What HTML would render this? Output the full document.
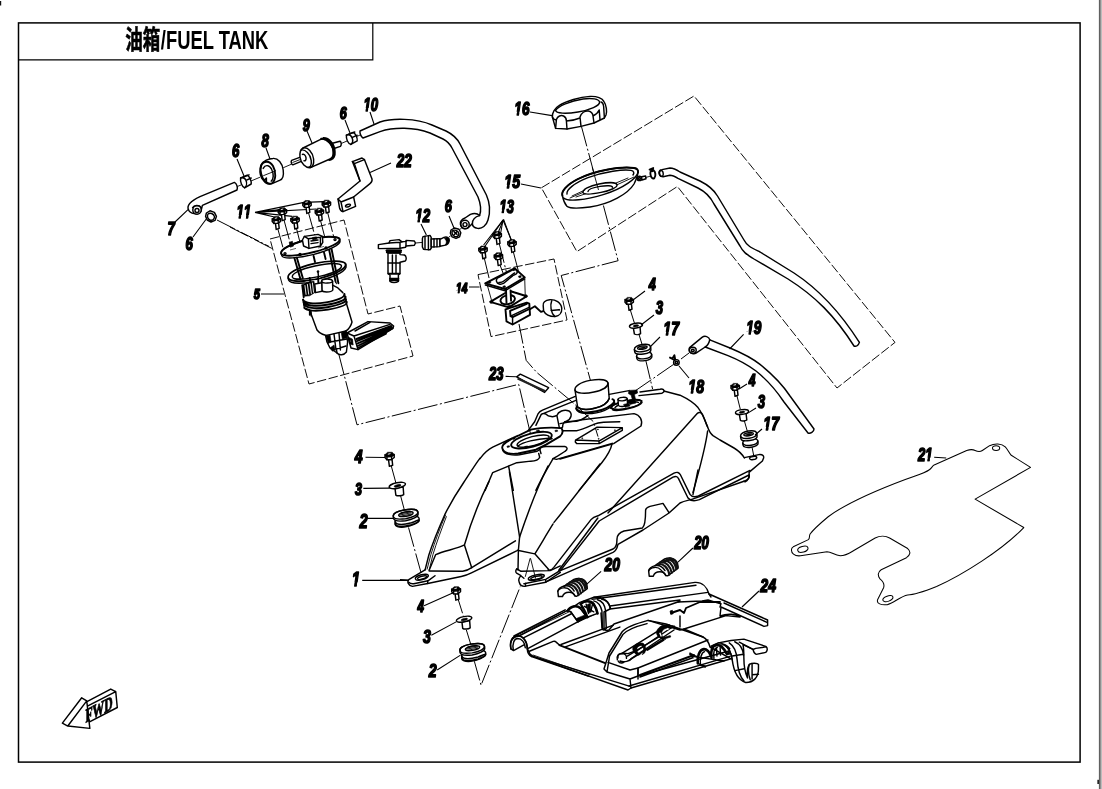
<!DOCTYPE html>
<html><head><meta charset="utf-8"><title>油箱/FUEL TANK</title>
<style>
html,body{margin:0;padding:0;background:#fff;}
body{width:1102px;height:789px;overflow:hidden;position:relative;font-family:"Liberation Sans","Noto Sans CJK SC",sans-serif;}
svg{position:absolute;left:0;top:0;display:block;will-change:transform}
.k{fill:none;stroke:#000;stroke-width:1.45;stroke-linecap:round;stroke-linejoin:round;vector-effect:non-scaling-stroke}
.kw{fill:#fff;stroke:#000;stroke-width:1.45;stroke-linecap:round;stroke-linejoin:round;vector-effect:non-scaling-stroke}
.t{fill:none;stroke:#000;stroke-width:0.9;stroke-linecap:round;stroke-linejoin:round;vector-effect:non-scaling-stroke}
.tw{fill:#fff;stroke:#000;stroke-width:0.9;stroke-linecap:round;stroke-linejoin:round;vector-effect:non-scaling-stroke}
.h{fill:none;stroke:#000;stroke-width:1.9;stroke-linecap:round;stroke-linejoin:round;vector-effect:non-scaling-stroke}
.b{fill:#000;stroke:#000;stroke-width:0.6;vector-effect:non-scaling-stroke}
.d{fill:none;stroke:#000;stroke-width:1.0;stroke-dasharray:20 2.5 2 2.5;vector-effect:non-scaling-stroke}
.ds{fill:none;stroke:#000;stroke-width:0.95;stroke-dasharray:9.5 2.5;vector-effect:non-scaling-stroke}
.l{fill:none;stroke:#000;stroke-width:1.1;vector-effect:non-scaling-stroke}
.n{font-family:"Liberation Sans",sans-serif;font-weight:bold;font-style:italic;font-size:17px;fill:#000;stroke:#000;stroke-width:1.2;stroke-linejoin:round;text-anchor:middle}
.n2{font-family:"Liberation Sans",sans-serif;font-weight:bold;font-style:italic;font-size:100px;fill:#000;stroke:#000;stroke-linejoin:round}
.title{font-family:"Liberation Sans","Noto Sans CJK SC",sans-serif;font-weight:bold;font-size:22px;fill:#000}
</style></head><body>
<svg width="1102" height="789" viewBox="0 0 1102 789">
<!-- 00_frame.svgf -->
<rect x="0" y="0" width="1102" height="789" fill="#fff"/>
<rect x="0" y="1" width="1.2" height="4.5" fill="#111"/>
<rect x="1099.4" y="0" width="2.2" height="789" fill="#909090"/>
<rect x="1098.9" y="0" width="0.9" height="789" fill="#4a4a4a"/>
<rect x="1097.4" y="779.8" width="1.5" height="4.2" fill="#111"/>
<rect x="18.5" y="22.9" width="1061.6" height="739.2" fill="none" stroke="#000" stroke-width="1.5"/>
<path d="M18.5,59.9H372.8V22.9" fill="none" stroke="#000" stroke-width="1.2"/>
<text class="title" transform="translate(125.2,49.0) scale(0.66,0.98)" style="font-size:26.5px;font-weight:bold;stroke:#000;stroke-width:0.7">油箱</text><text class="title" transform="translate(160.8,49.2) scale(0.694,1)" style="font-size:26.5px">/FUEL TANK</text>
<!-- 01_defs.svgf -->
<defs>
<g id="bolt">
<path class="kw" d="M-5,16 L11,15 L14,42 L-1,47Z"/>
<path class="kw" d="M-21,-6 L-21,7 L-12,17 L9,16 L21,7 L21,-7 L9,2 L-12,3Z"/>
<path class="b" d="M-21,-6 L-9,-17 L12,-17 L21,-7 L9,2 L-12,3Z"/>
<path class="k" d="M-12,3 L-12,17 M9,2 L9,16"/>
<path d="M-8,-8 L4,-11" fill="none" stroke="#fff" stroke-width="0.9" vector-effect="non-scaling-stroke"/>
</g>
<g id="washerL">
<path class="kw" d="M-16,18 L40,10 L44,62 C30,72 0,74 -10,66Z"/>
<ellipse class="kw" cx="0" cy="0" rx="57" ry="19" transform="rotate(-12)"/>
<ellipse class="b" cx="2" cy="2" rx="24" ry="8" transform="rotate(-12 2 2)"/>
</g>
<g id="grommet2">
<path class="kw" d="M-72,50 C-76,36 -60,30 -40,24 L70,10 C90,14 96,26 92,40 C86,58 40,80 -10,86 C-50,90 -72,80 -72,64Z"/>
<path class="k" d="M-72,50 C-60,74 -10,70 40,56 C76,44 96,30 92,40 M-72,64 C-60,88 -10,84 40,70 C76,58 94,46 92,40"/>
<path class="kw" d="M-84,14 C-90,-6 -60,-24 -10,-32 C40,-40 80,-36 84,-18 L86,-4 C86,14 50,34 0,42 C-46,48 -80,42 -84,24Z"/>
<path class="k" d="M-84,14 C-90,-6 -60,-24 -10,-32 C40,-40 80,-36 84,-18 C88,0 50,20 0,28 C-46,34 -80,30 -84,14Z"/>
<ellipse class="k" cx="2" cy="-4" rx="50" ry="15" transform="rotate(-10 2 -4)"/>
<path class="t" d="M-36,2 L38,-12 M-34,-6 L36,-19 M-26,9 L40,-4 M-30,-13 L24,-23"/>
</g>
</defs>
<!-- 10_z1.svgf -->
<g transform="translate(160,90) scale(0.2)">
<!-- centre line through 7-6-8-9-6-10 -->
<path class="t" d="M388,482 L405,475 M455,455 L498,437 M618,388 L655,372 M905,268 L935,255 M985,232 L1003,224"/>
<!-- hose 7 -->
<path class="kw" d="M372,462 L200,533 C160,552 132,575 142,598 C150,622 190,625 205,605 L212,577 L385,500 C390,488 384,468 372,462Z"/>
<path class="k" d="M163,588 C170,575 195,573 207,588"/>
<circle class="kw" cx="185" cy="600" r="21"/>
<circle class="k" cx="185" cy="602" r="10"/>
<!-- clamp 6 lower -->
<path class="kw" d="M232,615 L250,604 L272,612 L282,632 L275,652 L255,660 L236,650 L228,632Z"/>
<path class="k" d="M240,620 C250,612 268,618 272,632 C275,645 262,654 250,650 C238,645 234,630 240,620Z"/>
<path class="d" d="M285,650 L545,782"/>
<!-- clamp 6 mid -->
<path class="kw" d="M403,440 L436,426 C448,432 458,455 456,470 L423,489 C410,485 400,460 403,440Z"/>
<path class="k" d="M403,440 C412,436 425,440 430,452 C436,466 432,482 423,489 M412,438 L445,424 M430,452 L456,440"/>
<!-- part 8 ring -->
<path class="kw" d="M505,375 C515,355 545,342 565,342 C590,340 612,365 616,400 C620,430 610,448 598,452 L560,468 C545,472 530,468 520,455 L508,440 C498,420 498,395 505,375Z"/>
<path class="h" d="M506,378 C518,352 548,352 565,380 C582,410 580,452 560,466 C540,478 512,450 506,420 C502,405 502,390 506,378Z"/>
<path class="k" d="M516,392 C526,372 546,374 558,396 C570,420 568,448 556,456 M520,452 L532,440 L532,462"/>
<path class="t" d="M518,428 L578,404"/>
<!-- part 9 filter -->
<path class="kw" d="M658,352 L712,332 L718,352 L664,374 C656,372 654,358 658,352Z"/>
<path class="t" d="M664,362 L716,342"/>
<path class="kw" d="M862,266 L900,256 C908,262 908,276 902,282 L866,294Z"/>
<path class="kw" d="M715,290 L806,246 C830,240 862,268 866,305 C868,325 862,340 850,345 L752,388 C730,392 704,368 700,335 C698,315 703,297 715,290Z"/>
<path class="h" d="M806,244 C835,240 866,275 868,312 C870,335 858,350 846,350 M818,240 C845,240 874,272 874,310 C876,330 866,346 856,346"/>
<path class="k" d="M716,290 C738,284 764,310 768,345 C770,368 764,384 752,388 M706,300 C726,296 752,320 756,352 C758,370 752,384 744,386"/>
<path class="k" d="M712,322 C718,318 728,326 730,338 C732,350 726,356 720,354"/>
<!-- clamp 6 right -->
<path class="kw" d="M932,226 L966,212 C978,218 988,240 986,254 L954,272 C940,268 930,246 932,226Z"/>
<path class="k" d="M932,226 C942,222 954,226 960,238 C966,252 962,266 954,272 M942,222 L974,210 M960,238 L986,226"/>
<!-- part 22 bracket -->
<path class="kw" d="M962,358 L1010,340 L1022,348 L1060,445 C1062,455 1058,462 1050,468 L968,535 L978,582 L915,608 C905,606 900,598 898,590 L890,545 L1000,455 Z"/>
<path class="k" d="M962,358 L972,368 L1022,348 M972,368 L1000,455 M968,535 L905,560 L890,545 M905,560 L915,608"/>
<ellipse class="k" cx="940" cy="578" rx="13" ry="6" transform="rotate(-20 940 578)"/>
<path class="l" d="M1050,412 L1100,390 M75,660 L140,598 M165,735 L235,640 M385,345 L420,430 M530,290 L550,345 M735,205 L760,265 M925,150 L950,215 M1050,110 L1070,170"/>
</g>
<!-- 11_z2.svgf -->
<g transform="translate(380,90) scale(0.2)">
<!-- hose 10 -->
<path class="kw" d="M-100,205 L0,160 C60,140 180,140 260,175 L330,205 C365,222 385,240 400,270 L532,525 C552,570 552,610 540,650 C532,678 510,695 488,692 C472,690 462,680 462,668 L440,690 C425,700 405,690 402,672 C400,655 412,645 425,640 L452,622 C470,615 488,618 498,628 C506,605 504,570 490,535 L360,290 C345,262 335,255 315,245 L250,215 C170,185 70,185 0,208 L-85,240 C-95,235 -102,215 -100,205Z"/>
<path class="k" d="M462,668 C462,650 470,635 498,628"/>
<circle class="k" cx="425" cy="672" r="21"/>
<circle class="k" cx="425" cy="673" r="10"/>
<!-- clamp 6 -->
<path class="kw" d="M355,700 L372,690 L395,696 L404,714 L398,734 L380,742 L360,734 L352,716Z"/>
<path class="k" d="M362,704 C372,697 390,702 394,716 C397,728 385,737 374,733 C362,728 357,714 362,704Z M370,708 L385,722 M385,708 L372,722"/>
<path class="t" d="M345,735 L352,730 M402,695 L408,690"/>
<!-- cap 16 leader + 15 leader -->
<path class="l" d="M750,110 L860,128 M705,470 L805,490 M55,365 L0,390 M345,630 L372,695 M205,670 L232,725"/>
<path class="l" d="M615,650 L520,789 M615,650 L598,745 M615,650 L660,758"/>
</g>
<!-- 12_z3.svgf -->
<g transform="translate(540,80) scale(0.2)">
<!-- dashed frame 15 -->

<!-- cap 16 -->
<path class="kw" d="M62,185 C60,165 75,140 95,128 C130,105 200,85 250,82 C285,80 312,92 320,108 C332,125 336,160 330,175 L322,190 L270,215 L205,232 L135,245 L78,242 Z"/>
<path class="k" d="M78,152 C90,130 150,105 215,95 C260,88 295,95 298,110 C300,128 250,150 190,160 C130,170 80,168 78,152Z"/>
<path class="k" d="M78,242 L82,198 C88,180 105,174 118,180 C128,185 132,195 132,205 L135,245 M205,232 L200,185 C205,165 225,152 242,155 C256,158 264,170 265,180 L270,215 M322,190 L318,130 C316,118 312,112 305,110 M300,198 L296,150 M62,185 C66,195 72,200 82,198 M132,205 C150,205 180,198 200,190 M265,180 C280,172 292,160 296,150"/>
<!-- axis -->
<path class="d" d="M208,235 L292,548"/>
<!-- ring 15 -->
<path class="kw" d="M112,578 C105,560 130,525 190,495 C270,455 400,430 470,440 C485,442 492,450 490,462 C488,480 480,500 470,520 C440,570 350,620 250,635 C200,642 150,642 135,632 C125,620 115,595 112,578Z"/>
<path class="h" d="M112,578 C105,560 130,525 190,495 C270,455 400,430 470,440 C485,442 492,450 490,462"/>
<path class="k" d="M490,462 C485,490 420,540 320,572 C230,600 140,610 118,590 M135,570 C130,550 170,515 240,488 C320,458 420,445 455,452 C470,455 472,465 465,475"/>
<path class="k" d="M215,562 C212,548 245,530 295,520 C345,510 382,512 385,524 C388,536 355,552 305,562 C255,572 218,574 215,562Z M240,558 C240,548 265,538 300,532 C335,526 362,528 362,536"/>
<path class="t" d="M150,590 L215,562 M385,524 L470,485 M160,580 L225,550 M380,515 L440,490 M180,585 L230,568"/>
<!-- small bolt, clip, hose end -->
<circle class="kw" cx="497" cy="492" r="11"/><circle class="k" cx="497" cy="492" r="5"/>
<path class="kw" d="M508,484 L528,480 L530,494 L510,500Z"/>
<path class="t" d="M530,487 L548,482"/>
<path class="h" d="M552,470 C550,455 560,448 568,452 C578,458 580,480 572,490 C564,498 554,488 552,470Z M548,448 L566,440 L562,456"/>
<ellipse class="k" cx="607" cy="467" rx="9" ry="15" transform="rotate(-10 607 467)"/>
</g>
<!-- 13_breather.svgf -->
<!-- dashed frame 15 (absolute) -->
<path class="ds" d="M541.4,187.8 L694,96 L895,342.4 L837,388 L677.4,186.5 L576.9,251.6Z"/>
<path class="t" d="M592.4,168 L598.4,189.6"/>
<path class="d" d="M603.4,205.5 L618.1,260.7 L561.2,275.5 L592,386"/>
<!-- breather hose -->
<path class="kw" d="M662,169.6 L670,168 C674,168 677,170 680,172 L700,181 C710,186 714,190 717.5,196 L744,240 C747,246 752,248 760,252 L794,273 C820,290 840,312 859.4,342.4 C858.5,345.5 856,347 854,346 C835,316 815,296 788,279 L754,259 C746,254 743,252 740,246 L714,204 C710,196 706,192 698,188 L678,178.4 C675,176.5 672,175.2 670,175.2 L663,176.8 C660,176.8 658.4,174 659.2,171.6 C659.6,170.4 660.8,169.6 662,169.6Z"/>
<ellipse class="k" cx="661.4" cy="173.4" rx="1.8" ry="3" transform="rotate(-10 661.4 173.4)"/>
<!-- 14_z5.svgf -->
<g transform="translate(600,280) scale(0.2)">
<!-- axes -->
<path class="d" d="M150,145 L172,215 M195,272 L212,328 M228,398 L263,545"/>
<path class="d" d="M445,365 L405,395 M368,422 L175,555"/>
<path class="d" d="M685,580 L702,648 M722,705 L742,775 M760,835 L770,885"/>
<use href="#bolt" x="146" y="104"/>
<!-- washer 3 top -->
<path class="kw" d="M166,236 L200,232 L203,268 C195,274 180,275 172,270Z"/>
<ellipse class="kw" cx="180" cy="228" rx="33" ry="12" transform="rotate(-8 180 228)"/>
<ellipse class="b" cx="180" cy="229" rx="14" ry="5" transform="rotate(-8 180 229)"/>
<!-- grommet 17 top -->
<g id="g17"><g transform="rotate(-8 215 360)">
<path class="kw" d="M180,378 C180,368 198,362 220,362 C242,362 256,368 256,378 L256,388 C256,398 240,404 218,404 C196,404 180,398 180,388Z"/>
<path class="k" d="M180,378 C182,390 200,394 220,394 C240,394 254,388 256,378"/>
<path class="kw" d="M174,342 C174,330 194,322 216,322 C238,322 256,328 256,340 L256,352 C256,364 238,370 216,370 C194,370 174,364 174,354Z"/>
<path class="k" d="M174,342 C176,354 196,358 216,358 C238,358 254,352 256,340"/>
<ellipse class="k" cx="215" cy="338" rx="24" ry="8"/>
<path class="b" d="M198,340 C204,334 226,334 232,338 C226,344 206,345 198,340Z"/>
</g></g>
<use href="#g17" x="531" y="433"/>
<!-- clip 18 -->
<circle class="kw" cx="382" cy="412" r="14"/>
<circle class="k" cx="382" cy="412" r="6"/>
<path class="h" d="M372,400 L350,388 M376,398 L372,376 L362,392"/>
<!-- hose 19 -->
<path class="kw" d="M448,338 L510,287 C525,276 545,284 549,299 L650,340 C710,365 760,390 800,422 C860,470 910,520 950,580 L1070,745 C1070,758 1052,770 1040,765 L920,610 C880,550 830,495 780,455 C740,425 690,398 640,378 L526,335 L480,366 C470,372 452,368 447,356 C445,350 445,343 448,338Z"/>
<path class="k" d="M549,299 C545,315 538,328 526,335"/>
<ellipse class="k" cx="464" cy="351" rx="17" ry="15"/>
<ellipse class="k" cx="464" cy="352" rx="7" ry="6"/>
<use href="#bolt" x="676" y="534"/>
<!-- washer 3 second -->
<path class="kw" d="M696,668 L730,664 L734,700 C726,706 710,707 702,702Z"/>
<ellipse class="kw" cx="710" cy="660" rx="33" ry="12" transform="rotate(-8 710 660)"/>
<ellipse class="b" cx="710" cy="661" rx="14" ry="5" transform="rotate(-8 710 661)"/>
<!-- leaders -->
<path class="l" d="M225,55 L165,100 M270,175 L205,225 M300,285 L250,335 M445,490 L395,430 M718,272 L648,345 M735,520 L695,545 M780,640 L735,668 M810,745 L775,775"/>
</g>
<!-- 15_z6.svgf -->
<g transform="translate(370,215) scale(0.2)">
<!-- dashed boxes -->
<path class="ds" d="M540,298 L920,220 L985,525 L605,608Z"/>
<!-- axes of bolts 13 -->
<path class="d" d="M572,218 L600,335 M646,142 L682,285 M716,182 L745,292 M650,250 L666,292"/>
<path class="d" d="M745,545 L781,727 L833.5,787 L1013,936.5 L1117.5,1034 L1140,1108"/>
<!-- injector -->
<path class="kw" d="M42,148 L95,140 L100,128 L145,123 L160,134 L180,132 L180,127 L222,130 L227,140 L222,151 L180,155 L178,161 L150,166 L42,168Z"/>
<path class="k" d="M95,140 L150,136 L160,134 M150,136 L150,166 M180,132 L180,155"/>
<path class="t" d="M228,140 L262,137"/>
<path class="kw" d="M90,190 L150,190 L150,198 L172,200 C182,205 184,222 176,230 L150,236 L150,292 L142,300 L142,332 C130,340 110,340 100,332 L100,300 L90,292Z"/>
<path class="h" d="M82,178 L156,178 M84,186 L154,186 M92,294 L148,294 M100,318 L142,318 M100,326 L142,326"/>
<path class="b" d="M82,174 L156,174 L154,190 L84,190Z"/>
<path class="k" d="M112,200 L112,290 M130,200 L130,290 M90,240 L150,240"/>
<!-- connector 12 -->
<path class="kw" d="M265,108 L300,102 L306,112 L306,166 L300,174 L268,172 L262,160 L262,118Z"/>
<path class="k" d="M275,106 L275,172 M292,104 L292,174"/>
<path class="kw" d="M306,120 L350,118 L350,158 L306,160Z"/>
<path class="k" d="M320,119 L320,160 M335,118 L335,159"/>
<path class="kw" d="M350,122 L370,112 C385,106 398,115 396,128 C394,140 385,150 372,152 L350,156Z"/>
<path class="b" d="M372,118 C385,108 398,115 396,128 C394,140 385,150 376,150 C384,140 384,126 372,118Z"/>
<!-- sensor 14 (ZV coords) -->
<g transform="translate(500,175) scale(0.50689)">
<!-- lower gasket -->
<path class="kw" d="M200,512 L385,402 L560,456 L382,566Z" style="stroke-width:1.9"/>
<ellipse class="h" cx="372" cy="490" rx="72" ry="44" transform="rotate(-12 372 490)"/>
<path class="b" d="M196,505 l26,-8 l8,22 l-26,8Z M532,448 l26,-6 l6,22 l-26,8Z M368,552 l24,-6 l6,20 l-24,6Z"/>
<!-- post -->
<path class="kw" d="M352,380 L402,396 L406,505 L360,520Z" style="stroke:none"/>
<path class="h" d="M355,385 L360,520 M400,398 L405,500"/>
<path class="t" d="M170,345 L215,505 M540,290 L545,450"/>
<!-- upper plate -->
<path class="kw" d="M150,330 L440,180 L540,270 L345,385Z" style="stroke-width:1.9"/>
<path class="k" d="M152,345 L345,402 L540,286"/>
<path class="kw" d="M262,310 C255,290 270,275 290,268 L420,195 C445,185 470,200 465,225 C460,240 440,245 420,255 L330,330 C300,345 270,335 262,310Z"/>
<path class="k" d="M285,320 C300,322 318,318 330,308 L440,226"/>
<path class="b" d="M178,314 l22,-6 l6,16 l-22,6Z M324,358 l22,-6 l6,16 l-22,6Z M478,258 l22,-6 l6,16 l-22,6Z M418,190 l20,-6 l6,14 l-20,6Z"/>
<!-- float bracket -->
<path class="kw" d="M350,585 L560,520 L585,530 L592,640 L420,735 L360,705Z" style="stroke-width:1.9"/>
<path class="h" d="M395,600 L400,652 L420,662 L586,582 M395,600 L560,532"/>
<path class="k" d="M400,652 L582,566 M420,662 L420,735"/>
<!-- wire + float -->
<path class="h" d="M595,582 L640,555 L700,610 L730,600"/>
<path class="kw" d="M722,548 C715,520 742,494 786,490 C842,485 900,520 905,576 C908,620 880,650 840,656 C800,656 745,640 726,600Z"/>
<path class="k" d="M806,500 C790,540 795,620 836,655 M800,596 L880,590"/>
<circle class="b" cx="880" cy="590" r="5"/>
</g>
<!-- leaders -->
<path class="l" d="M495,360 L548,360 M668,22 L568,150 M668,22 L640,90 M668,22 L706,125"/>
</g>
<g transform="translate(370,215) scale(0.2)">
<use href="#bolt" x="565" y="172"/><use href="#bolt" x="636" y="100"/><use href="#bolt" x="710" y="140"/><use href="#bolt" x="642" y="206"/>
</g>
<!-- 16_z7.svgf -->
<g transform="translate(230,190) scale(0.2)">
<!-- dashed box 5 -->
<path class="ds" d="M200,245 L570,150 L690,620 L850,580 L915,830 L395,970Z"/>
<!-- axes -->
<path class="d" d="M0,185 L215,295"/>
<path class="d" d="M545,825 L635,1174 L1443.5,971.5 L1505,1230"/>
<path class="d" d="M238,190 L268,300 M270,150 L305,280 M332,190 L352,270 M392,112 L430,250 M452,150 L475,240 M488,112 L520,240"/>
<!-- top flange -->
<path class="kw" d="M256,318 C250,300 300,270 380,250 C460,230 540,228 548,245 L550,256 C552,272 500,300 420,322 C340,342 268,346 260,330Z"/>
<path class="h" d="M256,318 C250,300 300,270 380,250 C460,230 540,228 548,245 C552,262 500,290 420,310 C340,330 262,336 256,318Z"/>
<path class="kw" d="M362,250 L372,232 L440,222 L462,232 L464,262 L452,280 L395,292 L368,280Z"/>
<path class="k" d="M372,232 L392,244 L452,236 L462,232 M392,244 L395,292 M452,236 L452,280 M405,255 L440,250 M405,268 L440,263"/>
<path class="b" d="M296,262 L312,256 L318,280 L302,286Z M412,238 L432,234 L434,246 L414,250Z M300,300 L330,292 M440,290 L470,282"/>
<circle class="k" cx="275" cy="318" r="5"/><circle class="k" cx="525" cy="248" r="5"/><circle class="k" cx="350" cy="322" r="5"/><circle class="k" cx="480" cy="290" r="5"/>
<!-- rods -->
<path class="h" d="M322,340 L352,445 M334,338 L364,440 M496,300 L530,470 M508,296 L542,466 M418,330 L425,360 M470,312 L478,345"/>
<!-- second ring -->
<path class="h" d="M291,440 C282,420 335,388 420,368 C500,350 572,352 578,370 C584,390 535,420 450,442 C365,462 298,460 291,440Z"/>
<path class="k" d="M312,436 C306,420 350,396 425,380 C495,364 552,364 557,378 C562,394 520,416 448,432 C375,448 318,450 312,436Z"/>
<path class="k" d="M291,440 L293,450 C300,470 368,472 452,452 C536,430 586,400 580,380 L578,370"/>
<circle class="b" cx="440" cy="408" r="5"/>
<path class="k" d="M440,408 L442,430"/>
<!-- mid body -->
<g transform="translate(200,175) scale(0.6018)">
<path class="kw" d="M268,500 L300,470 L420,452 L520,455 L560,500 L612,560 L300,610Z" style="stroke:none"/>
<path class="kw" d="M428,468 C428,455 450,448 475,448 C500,448 520,455 520,468 L522,540 C515,552 490,556 470,556 C450,556 432,550 430,540Z"/>
<path class="k" d="M428,468 C432,480 455,484 478,482 C500,480 518,476 520,468 M520,500 L560,520 L605,562"/>
<path class="kw" d="M372,490 L430,480 L432,550 L378,562Z"/>
<path class="b" d="M268,500 L300,476 L366,468 L374,560 L330,588 L285,592Z"/>
<path d="M290,500 L300,580 M310,490 L322,578 M332,484 L344,572 M352,478 L362,562" fill="none" stroke="#fff" stroke-width="0.9" vector-effect="non-scaling-stroke"/>
<path class="h" d="M330,440 L336,476 M400,436 L402,480 M268,500 L280,600"/>
</g>
<!-- filter body -->
<path class="kw" style="stroke:none" d="M365,548 C380,560 420,560 470,550 C530,540 565,530 572,520 L580,560 L610,660 C600,700 570,720 520,728 C480,732 450,720 435,700 L398,600 L372,590Z"/>
<path class="k" d="M365,548 L372,590 L398,600 L435,700 C450,720 480,732 520,728 C570,720 600,700 610,660 L580,560 L572,520"/>
<path class="h" d="M365,548 C372,566 420,572 480,562 C540,552 575,536 572,520 M368,560 C376,578 424,584 484,574 C544,564 580,548 578,534 M370,572 C378,590 426,596 486,586 C546,576 584,560 580,546 M372,590 C382,604 430,608 490,598 C548,588 586,574 584,560"/>
<path class="k" d="M398,600 L398,625 M405,602 L406,630"/>
<!-- pump base -->
<path class="kw" d="M478,728 L580,705 L588,760 L582,810 C570,826 545,828 535,815 L500,790 L485,760Z"/>
<path class="b" d="M480,730 L500,725 L506,760 L490,768Z M500,790 L520,775 L526,800 L512,806Z M556,712 L580,706 L584,740 L562,746Z"/>
<path class="k" d="M520,720 L530,800 M545,716 L552,800 M535,815 L532,795 L580,780 M500,760 L585,745"/>
<!-- sender -->
<path class="kw" d="M585,715 L690,658 L800,665 L818,680 L815,692 L640,798 L605,790Z"/>
<path class="k" d="M585,715 L620,730 L640,798 M620,730 L800,672 M700,662 L625,705"/>
<path class="h" d="M632,745 L806,680 M634,756 L810,686 M636,768 L812,692 M638,780 L800,700 M640,790 L780,718"/>
<path class="b" d="M590,735 L612,745 L616,775 L598,770Z"/>
<circle class="kw" cx="604" cy="755" r="6"/>
<!-- leaders 11 & 5 -->
<path class="l" d="M125,112 L252,98 M125,112 L370,62 L470,58 M125,112 L222,135 M125,112 L312,132 M125,112 L432,95 M155,520 L270,520"/>
</g>
<g transform="translate(230,190) scale(0.2)">
<use href="#bolt" x="232" y="150"/><use href="#bolt" x="262" y="106"/><use href="#bolt" x="325" y="148"/><use href="#bolt" x="385" y="70"/><use href="#bolt" x="447" y="108"/><use href="#bolt" x="482" y="68"/>
</g>
<!-- 20_tank_e.svgf -->
<g transform="translate(480,390) scale(0.12706)">
<!-- left outline into flange -->
<path class="k" d="M0,540 C30,500 60,470 100,450 L250,380"/>
<!-- pump flange -->
<path class="h" d="M175,455 C170,430 230,390 300,360 L400,312 C450,298 560,292 640,300 C656,320 650,345 630,365 L520,430 L440,470 L300,500 C230,510 180,490 175,455Z"/>
<path class="k" d="M180,475 C195,505 250,518 310,510 L450,482 L470,468"/>
<ellipse class="h" cx="405" cy="395" rx="165" ry="52" transform="rotate(-15 405 395)"/>
<ellipse class="k" cx="418" cy="402" rx="130" ry="36" transform="rotate(-15 418 402)"/>
<path class="k" d="M300,440 C340,410 440,385 540,380"/>
<path class="b" d="M255,380 l18,-6 l4,10 l-18,6Z M445,318 l20,-4 l3,10 l-20,4Z M590,318 l18,-3 l3,10 l-18,4Z M212,442 l18,-4 l3,10 l-18,4Z M352,445 l22,-5 l3,11 l-22,5Z M550,382 l16,-7 l5,9 l-16,7Z"/>
<!-- channel -->
<path class="k" d="M380,318 L430,250 L458,185 C466,172 478,164 492,158 L750,50 M440,278 L482,192 M482,192 L760,80 M482,192 C490,186 505,182 520,190 C540,212 580,216 605,200 C615,170 660,150 700,165 C730,185 720,230 680,245 C662,250 650,270 650,292 L642,300 M605,200 L625,300"/>
<path class="k" d="M668,250 L760,246 C800,240 830,215 850,200 M650,320 L760,320 C800,316 850,290 900,268 C940,252 1000,250 1100,250"/>
<!-- rib + step -->
<path class="k" d="M470,466 C478,450 500,445 520,445 L668,445 C690,450 692,470 670,482 L610,520 L575,540 L602,546 L1040,420"/>
<path class="k" d="M470,466 L480,500 M300,500 M462,500 L470,530 C460,555 430,560 400,560 L290,572 L100,650 L40,790"/>
<path class="k" d="M225,600 L262,790 M575,540 C540,600 480,700 440,790 M1040,420 C1030,470 1000,520 960,570 L780,790"/>
<!-- pad -->
<path class="k" d="M752,394 L922,292 L1120,296 L936,402Z M752,394 L750,410 L762,422 L938,422 L1120,318 L1120,296 M936,402 L938,422"/>
<circle class="b" cx="805" cy="380" r="4"/><circle class="b" cx="934" cy="384" r="4"/><circle class="b" cx="1062" cy="316" r="4"/><circle class="b" cx="928" cy="310" r="4"/>
</g>
<!-- 21_tank_b.svgf -->
<g transform="translate(560,360) scale(0.2)">
<!-- filler neck -->
<path class="kw" d="M75,150 L88,235 C120,262 230,240 246,192 L240,115 C235,95 190,95 150,102 C100,112 72,132 75,150Z"/>
<path class="k" d="M75,150 C80,168 125,170 170,160 C215,150 242,132 240,115"/>
<path class="h" d="M84,232 C80,240 82,246 88,250 C125,278 240,252 270,212 C272,205 268,198 262,196"/>
<path class="k" d="M88,235 C120,262 230,240 246,192 M80,244 C84,256 100,266 130,268 C200,270 262,240 274,214"/>
<!-- vent fitting -->
<path class="kw" d="M255,240 C258,215 380,188 408,205 C405,232 290,260 255,240Z"/>
<path class="h" d="M255,240 C258,215 380,188 408,205"/>
<path class="k" d="M275,238 C285,222 370,202 392,212 M262,248 C280,262 400,235 410,212"/>
<path class="kw" d="M290,198 C290,186 335,182 336,194 L338,222 C330,234 296,236 292,226Z"/>
<path class="k" d="M290,198 C296,208 330,206 336,194"/>
<path class="b" d="M345,152 L385,150 L388,165 L372,172 L378,198 L362,200 L356,176 L342,168Z M340,205 L372,200 L380,215 L350,222Z M318,222 L345,216 L350,230 L325,236Z"/>
<!-- top-right tab & right outline -->
<path class="k" d="M246,172 L345,153 M400,160 L500,146 C515,143 524,150 519,160 L510,166 L395,178"/>
<path class="k" d="M519,155 L600,176 C640,195 670,215 690,238 C715,270 728,310 738,335 C745,355 752,368 765,378 L800,400 L870,440 C895,455 910,470 922,490"/>
<path class="k" d="M922,488 L1000,472 C1014,472 1020,480 1018,490 L1012,505 L945,562 C948,580 942,600 925,610"/>
<ellipse class="k" cx="966" cy="490" rx="18" ry="8" transform="rotate(-8 966 490)"/>
<!-- ridge lines -->
<path class="k" d="M240,765 L686,268 C695,258 708,262 714,275 C722,292 730,320 738,335 M738,355 C730,420 705,520 665,662"/>
<!-- plateau -->
<path class="k" d="M0,318 L100,300 L370,268 C400,275 415,300 405,330 L268,418 L0,495"/>
</g>
<!-- 22_tank_f.svgf -->
<g transform="translate(400,540) scale(0.14577)">
<!-- left tab -->
<path class="k" d="M172,205 L60,272 C48,285 55,312 85,318 L190,298 L420,250 C450,244 470,235 490,225 L800,75"/>
<path class="k" d="M60,290 C70,300 80,302 95,300 L192,280 L240,245 M190,280 L190,298 M200,213 L430,215 C455,212 475,202 492,190 L792,6"/>
<ellipse class="k" cx="150" cy="255" rx="46" ry="17" transform="rotate(-15 150 255)"/>
<ellipse class="k" cx="152" cy="258" rx="32" ry="10" transform="rotate(-15 152 258)"/>
<!-- left edge triple -->
<path class="k" d="M172,205 L198,103 C230,0 270,-90 308,-176 C350,-260 400,-340 438,-396 C475,-450 510,-510 548,-560"/>
<path class="t" d="M186,200 L212,100 C240,10 275,-85 312,-170 M200,207 L226,100 C250,20 285,-75 318,-160"/>
<!-- facet -->
<path class="k" d="M200,207 L245,100 C300,75 400,58 442,34 L492,190 M442,34 C480,-100 540,-260 610,-400"/>
<!-- right tab -->
<path class="k" d="M802,198 C792,205 792,222 800,228 L830,245 C815,258 812,275 818,290 C822,305 835,318 852,318 L1000,290 L1100,222"/>
<path class="k" d="M802,198 L830,215 L1030,210 L1100,178 M850,300 L1000,270 L1092,214 M1000,270 L1000,290 M860,296 L862,316 M835,250 L850,262"/>
<ellipse class="k" cx="935" cy="256" rx="56" ry="17" transform="rotate(-12 935 256)"/>
<ellipse class="k" cx="936" cy="259" rx="40" ry="10" transform="rotate(-12 936 259)"/>
<path class="k" d="M805,70 L925,95 L1020,202 M925,95 C960,40 1000,-30 1050,-110"/>
<path class="t" d="M892,128 L860,250 M896,128 L930,262"/>
<!-- leader for 1 -->
<path class="l" d="M0,272 L55,275"/>
</g>
<!-- 23_tank_c.svgf -->
<g transform="translate(410,470) scale(0.2)">
<!-- centre seam -->
<path class="k" d="M497,10 L548,335 L542,400 L540,500"/>
<path class="k" d="M548,335 C580,240 630,100 690,-20"/>
</g>
<g transform="translate(560,470) scale(0.2)">
<!-- skirt lines -->
<path class="k" d="M-60,500 C-48,504 -40,498 -31,487 L155,248 C165,236 175,233 190,229 L570,16 C585,8 596,12 602,24 L650,122 C658,134 675,136 692,130 L950,2"/>
<path class="k" d="M-6,501 L189,240 M2,503 L196,255 L565,36 C578,30 588,32 592,42 L640,140 C652,154 675,156 697,148 L945,25 C950,40 940,50 920,56"/>
<path class="k" d="M-8,507 L265,395 C280,390 285,370 285,345 C285,325 300,312 320,305 L412,290 C425,280 428,250 428,200 C430,190 440,185 450,182 L515,167 L545,213 M-67,558 L265,412 C280,405 286,390 290,372 L415,300 L545,215 L600,165 C620,155 640,152 655,148 L920,56"/>
<path class="k" d="M-30,262 L0,225 L200,-30 M690,0 L665,122"/>
</g>
<!-- 24_p23.svgf -->
<path class="kw" d="M516.7,376.8 L520.3,374.2 L548.6,387.7 L544.6,392.4Z"/>
<path d="M517.6,378.6 L545.4,391.2" fill="none" stroke="#222" stroke-width="2.2"/>
<path class="l" d="M505.6,376.4 L516.7,376.8"/>
<!-- 30_left234.svgf -->
<!-- left set 4/3/2 -->
<g transform="translate(340,440) scale(0.14577)">
<path class="d" d="M350,172 L385,300 M415,380 L442,482 M470,600 L560,925"/>
<path class="l" d="M175,118 L315,120 M160,332 L340,330 M190,538 L370,538"/>
</g>
<g transform="translate(389.6,456) scale(0.2)"><use href="#bolt" transform="scale(1.1)"/></g>
<g transform="translate(397.3,485.5) scale(0.14577)"><use href="#washerL"/></g>
<g transform="translate(405.6,514.6) scale(0.14577)"><use href="#grommet2"/></g>
<!-- lower set 4/3/2 -->
<g transform="translate(400,600) scale(0.14577)">
<path class="d" d="M388,-40 L438,120 M455,205 L488,312 M510,420 L556,585 L825,-92"/>
<path class="l" d="M215,242 L385,150 M255,480 L415,378 M165,40 L365,-50"/>
</g>
<g transform="translate(456.1,590.3) scale(0.2)"><use href="#bolt" transform="scale(1.05)"/></g>
<g transform="translate(464.1,619.2) scale(0.14577)"><use href="#washerL" transform="scale(0.95)"/></g>
<g transform="translate(472.2,648.8) scale(0.14577)"><use href="#grommet2"/></g>
<!-- 40_p24.svgf -->
<g transform="translate(500,570) scale(0.2)">
<!-- left tube end -->
<path class="kw" d="M55,395 C45,360 60,335 95,330 L350,196 L400,162 L470,136 L975,62 C1010,60 1035,85 1045,120 L1338,250 L1338,278 L1320,282 L1105,185 L1100,230 C1140,215 1180,220 1200,235 L1130,228 L920,295 L1015,335 C1035,345 1045,365 1050,385 L1155,444 L655,590 L640,600 L165,432 L150,420 L137,394 C137,355 115,329 87,329 C60,332 45,360 55,395Z"/>
<path class="k" d="M165,432 L650,582"/>
<!-- back top -->
<path class="k" d="M460,146 L980,76 M470,136 C520,135 550,160 550,195 L900,150 M550,180 L1040,112 M550,195 L520,210 L520,290 C520,300 530,305 545,300 L570,270 L900,156 M505,215 L510,290"/>
<!-- floor -->

<!-- raised box -->
<path class="k" d="M520,495 L545,415 L610,310 C630,285 680,268 740,252 L830,270 L1015,335 M520,495 L535,510 L650,545 L655,590 M650,545 L690,530 L690,490 L1040,350 M690,530 L1145,405 M690,490 L650,500 L540,462 M535,510 L548,430 L615,322 C635,298 680,282 735,268"/>
<path class="k" d="M590,440 C585,420 600,412 640,418 L690,400 L870,280 M600,455 C620,465 650,455 660,440 L870,300 M740,252 L900,300 L920,295 M860,280 L900,300"/>
<!-- wavy rod + upper right -->
<path class="h" d="M855,215 L900,200 L920,215 L930,190 L1000,160 L1100,160"/>
<path class="k" d="M890,160 L1010,155 L1040,150 L1100,168 M900,230 L900,285 M1045,120 L1055,135 M1120,165 L1335,262 M1100,185 L1105,168"/>
<path class="b" d="M850,205 l12,-4 l4,18 l-12,4Z"/>
<!-- front face -->
<path class="k" d="M645,580 L1150,432 M690,545 L690,490 M962,432 L1120,455 M700,535 L960,440 M950,415 L965,440"/>
<path class="h" d="M700,525 L970,425"/>
<path class="l" d="M1295,105 L1210,185"/>
</g>
<!-- 41_rubber20.svgf -->
<g transform="translate(545,540) scale(0.14577)">
<g id="rub20">
<path class="kw" d="M92,388 L88,352 C92,335 110,322 132,316 L198,270 C235,255 275,268 286,300 L290,333 L218,386 L206,384 C200,368 185,358 165,358 C140,358 125,370 120,388 Z"/>
<path class="k" d="M88,352 C100,325 150,318 172,345 C185,360 200,372 206,384 M132,316 C160,310 185,325 200,350"/>
<path d="M150,306 C188,298 222,330 230,378 M170,292 C206,288 238,318 246,366 M190,282 C224,276 254,306 262,352 M210,274 C242,268 270,296 278,340 M232,266 C258,264 282,288 287,326" fill="none" stroke="#111" stroke-width="2.1" stroke-linecap="round" vector-effect="non-scaling-stroke"/>
</g>
<use href="#rub20" x="623" y="-140"/>
<path class="l" d="M385,215 L285,305 M1015,55 L912,152"/>
</g>
<!-- 42_p21.svgf -->
<g transform="translate(780,430) scale(0.2409)">
<path d="M48,495 C45,510 60,525 85,522 L195,505 C215,505 225,520 250,522 C275,522 290,510 310,498 L395,448 C415,438 440,440 455,448 L530,492 C545,505 540,520 525,530 L420,580 C405,590 405,605 415,618 C430,630 435,640 430,655 L405,705 C400,720 420,728 445,725 C470,720 500,690 530,685 C560,685 600,670 650,650 C760,600 920,500 1012,405 L810,287 L1040,155 L960,105 C950,95 945,80 935,70 C920,55 890,55 870,65 L840,85 C830,92 820,90 810,85 C800,80 790,80 775,85 L640,145 C630,152 630,158 620,165 C600,180 560,190 520,205 C400,250 280,300 200,360 C170,385 140,410 125,432 C120,440 125,448 118,455 L55,485 C50,488 48,492 48,495Z" fill="none" stroke="#000" stroke-width="1.05" stroke-linejoin="round" vector-effect="non-scaling-stroke"/>
<ellipse cx="95" cy="495" rx="22" ry="12" transform="rotate(-15 95 495)" fill="none" stroke="#000" stroke-width="1.05" vector-effect="non-scaling-stroke"/>
<ellipse cx="448" cy="700" rx="22" ry="11" transform="rotate(-20 448 700)" fill="none" stroke="#000" stroke-width="1.05" vector-effect="non-scaling-stroke"/>
<ellipse cx="897" cy="75" rx="15" ry="10" fill="none" stroke="#000" stroke-width="1.05" vector-effect="non-scaling-stroke"/>
<path class="l" d="M640,113 L690,116"/>
</g>
<!-- 43_fwd.svgf -->
<g transform="translate(50,675) scale(0.07734)">
<path class="k" d="M490,400 L850,215 L870,420 L505,610 M478,345 L785,182 L850,215 M475,335 L230,660 L515,690 Z M475,335 L410,295 L160,622 L230,660"/>
</g>
<text transform="matrix(0.6,-0.31,0,1,85.4,722.8)" style="font-family:'Liberation Serif',serif;font-weight:bold;font-size:19.5px;fill:#000;stroke:#000;stroke-width:0.9">FWD</text>
<!-- 44_hook.svgf -->
<g transform="translate(680,625) scale(0.09124)">
<!-- hook band -->
<path class="kw" d="M340,232 L420,196 L560,170 L700,155 L940,235 C962,250 962,282 940,300 L835,322 C815,315 805,290 800,268 L690,215 C698,250 700,300 700,360 C700,440 712,520 740,580 C735,520 738,460 760,432 C785,414 850,414 860,432 L860,480 C860,580 800,632 720,630 C620,600 585,480 572,380 C562,300 540,250 480,215 Z"/>
<path class="k" d="M480,215 C530,240 560,300 572,380 M540,196 C592,230 620,300 626,380 C632,470 650,560 700,612 M600,184 C660,210 690,260 696,330 M572,340 L696,320 M602,500 L704,480 M790,430 L790,592 M860,540 L790,546 M760,432 C748,470 748,540 770,600 M800,268 L830,256 L942,240 M650,188 L800,266 M420,196 C470,200 520,220 545,260"/>
<!-- clips -->
<path d="M195,420 C185,340 215,270 262,264 C300,262 325,300 345,350 M345,360 C335,290 350,225 398,218 C440,215 480,250 515,320" fill="none" stroke="#000" stroke-width="2.6" stroke-linecap="round" vector-effect="non-scaling-stroke"/>
<path class="k" d="M225,440 C215,370 235,300 270,292 M372,365 C365,300 380,250 410,244 M400,250 L405,340 M440,250 L445,330 M195,420 L275,455 M110,318 L195,350"/>
<path class="b" d="M110,310 l30,8 l-4,16 l-30,-8Z M520,292 l22,-6 l6,34 l-22,6Z M225,430 l60,22 l-6,14 l-58,-22Z"/>
</g>
<!-- 45_lever.svgf -->
<g transform="translate(600,610) scale(0.09124)">
<path class="k" d="M240,476 L620,240 M300,505 L650,292 M330,545 L690,322 M520,440 L700,330 M190,545 C178,510 200,478 240,476 C275,476 295,500 290,530 M200,560 C215,590 250,585 262,570"/>
<path class="b" d="M360,410 C380,370 430,352 472,365 L492,402 C470,380 430,385 410,412 C395,440 410,470 442,486 L420,497 C380,482 352,450 360,410Z M470,365 C500,380 510,430 490,470 L462,490 C485,450 482,405 455,385Z"/>
<path class="b" d="M620,232 C640,182 700,150 762,160 L782,202 C740,190 700,202 682,232 C666,262 682,300 722,320 L690,322 C640,302 612,272 620,232Z M700,300 l70,-20 l6,16 l-70,22Z"/>
<path d="M655,250 L672,290 M735,200 L748,218" fill="none" stroke="#fff" stroke-width="1.4" vector-effect="non-scaling-stroke"/>
</g>
<!-- 46_p24left.svgf -->
<g transform="translate(500,590) scale(0.10899)">
<path class="k" d="M100,540 C90,470 110,425 160,420 C210,420 250,470 250,540 C252,580 270,600 290,610 M122,550 C112,490 128,448 162,445 C200,445 228,480 232,530 M100,540 L124,556 L215,505"/>
<path class="k" d="M128,422 L598,182 M215,440 L655,218 M250,540 L700,300 L880,215"/>
<path class="t" d="M150,418 L618,188 M172,420 L640,198"/>
<path class="k" d="M270,562 L488,472 C498,468 508,470 515,478 L545,505 M290,610 L810,790 M560,500 L1040,322 M600,522 L1100,340"/>
<path class="h" d="M545,505 L965,672"/>
<path class="t" d="M304,597 L824,777"/>
<!-- saddle rubber -->
<path class="kw" d="M622,190 C645,150 700,135 735,165 L790,240 L715,292 L650,200Z"/>
<path class="kw" d="M740,130 C770,95 830,95 860,130 C880,160 890,190 895,215 L800,250 Z"/>
<path d="M622,190 C645,150 700,135 735,165 M740,130 C770,95 830,95 860,130 C880,160 890,190 895,215 M752,150 C770,180 790,215 800,250" fill="none" stroke="#000" stroke-width="2.6" stroke-linecap="round" vector-effect="non-scaling-stroke"/>
<path class="b" d="M700,262 L785,226 L797,250 L715,292Z M800,135 L830,120 L832,200 L812,215Z"/>
<path class="k" d="M650,200 L715,292 M735,165 L790,240 M775,150 L860,200 M790,130 L812,215 M850,125 L832,200"/>
<path class="k" d="M860,100 C900,110 925,150 935,190 M895,90 C935,100 960,140 968,185 M930,82 C975,90 1005,130 1015,170 M935,190 L940,360 M968,185 L975,352 M940,360 C950,372 968,365 975,352"/>
</g>
<!-- 90_labels.svgf -->
<defs><clipPath id="c1"><path d="M-30,-100 H90 V-17.5 H37 L33.5,6 H16 L19.5,-17.5 H-30Z"/></clipPath></defs>
<g transform="translate(167.55,235.0) scale(0.1313,0.1774)"><text class="n2" style="stroke-width:9.0">7</text></g>
<g transform="translate(185.55,250.0) scale(0.1313,0.1774)"><text class="n2" style="stroke-width:9.0">6</text></g>
<g transform="translate(232.05,157.0) scale(0.1313,0.1774)"><text class="n2" style="stroke-width:9.0">6</text></g>
<g transform="translate(261.55,147.0) scale(0.1313,0.1774)"><text class="n2" style="stroke-width:9.0">8</text></g>
<g transform="translate(302.72,130.5) scale(0.1251,0.1690)"><text class="n2" style="stroke-width:9.5">9</text></g>
<g transform="translate(339.72,119.0) scale(0.1251,0.1690)"><text class="n2" style="stroke-width:9.5">6</text></g>
<g transform="translate(363.40,111.0) scale(0.1313,0.1774)"><text class="n2" clip-path="url(#c1)" style="stroke-width:9.0">1</text></g>
<g transform="translate(370.70,111.0) scale(0.1313,0.1774)"><text class="n2" style="stroke-width:9.0">0</text></g>
<g transform="translate(236.40,218.0) scale(0.1313,0.1774)"><text class="n2" clip-path="url(#c1)" style="stroke-width:9.0">1</text></g>
<g transform="translate(243.70,218.0) scale(0.1313,0.1774)"><text class="n2" clip-path="url(#c1)" style="stroke-width:9.0">1</text></g>
<g transform="translate(396.67,167.0) scale(0.1354,0.1830)"><text class="n2" style="stroke-width:8.7">2</text></g>
<g transform="translate(404.20,167.0) scale(0.1354,0.1830)"><text class="n2" style="stroke-width:8.7">2</text></g>
<g transform="translate(514.37,115.0) scale(0.1354,0.1830)"><text class="n2" clip-path="url(#c1)" style="stroke-width:8.7">1</text></g>
<g transform="translate(521.90,115.0) scale(0.1354,0.1830)"><text class="n2" style="stroke-width:8.7">6</text></g>
<g transform="translate(504.33,188.0) scale(0.1416,0.1913)"><text class="n2" clip-path="url(#c1)" style="stroke-width:8.4">1</text></g>
<g transform="translate(512.20,188.0) scale(0.1416,0.1913)"><text class="n2" style="stroke-width:8.4">5</text></g>
<g transform="translate(499.52,212.5) scale(0.1292,0.1746)"><text class="n2" clip-path="url(#c1)" style="stroke-width:9.2">1</text></g>
<g transform="translate(506.70,212.5) scale(0.1292,0.1746)"><text class="n2" style="stroke-width:9.2">3</text></g>
<g transform="translate(444.67,211.6) scale(0.1271,0.1718)"><text class="n2" style="stroke-width:9.3">6</text></g>
<g transform="translate(415.29,221.6) scale(0.1333,0.1802)"><text class="n2" clip-path="url(#c1)" style="stroke-width:8.9">1</text></g>
<g transform="translate(422.70,221.6) scale(0.1333,0.1802)"><text class="n2" style="stroke-width:8.9">2</text></g>
<g transform="translate(456.01,293.0) scale(0.1023,0.1383)"><text class="n2" clip-path="url(#c1)" style="stroke-width:11.6">1</text></g>
<g transform="translate(461.70,293.0) scale(0.1023,0.1383)"><text class="n2" style="stroke-width:11.6">4</text></g>
<g transform="translate(253.63,299.0) scale(0.1106,0.1494)"><text class="n2" style="stroke-width:10.7">5</text></g>
<g transform="translate(488.90,380.0) scale(0.1313,0.1774)"><text class="n2" style="stroke-width:9.0">2</text></g>
<g transform="translate(496.20,380.0) scale(0.1313,0.1774)"><text class="n2" style="stroke-width:9.0">3</text></g>
<g transform="translate(648.69,290.0) scale(0.1261,0.1704)"><text class="n2" style="stroke-width:9.4">4</text></g>
<g transform="translate(655.85,314.0) scale(0.1313,0.1774)"><text class="n2" style="stroke-width:9.0">3</text></g>
<g transform="translate(663.33,335.0) scale(0.1416,0.1913)"><text class="n2" clip-path="url(#c1)" style="stroke-width:8.4">1</text></g>
<g transform="translate(671.20,335.0) scale(0.1416,0.1913)"><text class="n2" style="stroke-width:8.4">7</text></g>
<g transform="translate(688.33,393.0) scale(0.1416,0.1913)"><text class="n2" clip-path="url(#c1)" style="stroke-width:8.4">1</text></g>
<g transform="translate(696.20,393.0) scale(0.1416,0.1913)"><text class="n2" style="stroke-width:8.4">8</text></g>
<g transform="translate(746.27,334.4) scale(0.1354,0.1830)"><text class="n2" clip-path="url(#c1)" style="stroke-width:8.7">1</text></g>
<g transform="translate(753.80,334.4) scale(0.1354,0.1830)"><text class="n2" style="stroke-width:8.7">9</text></g>
<g transform="translate(748.64,386.0) scale(0.1209,0.1634)"><text class="n2" style="stroke-width:9.8">4</text></g>
<g transform="translate(757.85,408.0) scale(0.1313,0.1774)"><text class="n2" style="stroke-width:9.0">3</text></g>
<g transform="translate(763.33,430.0) scale(0.1416,0.1913)"><text class="n2" clip-path="url(#c1)" style="stroke-width:8.4">1</text></g>
<g transform="translate(771.20,430.0) scale(0.1416,0.1913)"><text class="n2" style="stroke-width:8.4">7</text></g>
<g transform="translate(354.86,463.0) scale(0.1416,0.1913)"><text class="n2" style="stroke-width:8.4">4</text></g>
<g transform="translate(355.12,495.0) scale(0.1251,0.1690)"><text class="n2" style="stroke-width:9.5">3</text></g>
<g transform="translate(359.45,527.5) scale(0.1457,0.1969)"><text class="n2" style="stroke-width:8.1">2</text></g>
<g transform="translate(417.58,611.6) scale(0.1158,0.1564)"><text class="n2" style="stroke-width:10.2">4</text></g>
<g transform="translate(422.96,642.5) scale(0.1416,0.1913)"><text class="n2" style="stroke-width:8.4">3</text></g>
<g transform="translate(428.66,676.5) scale(0.1416,0.1913)"><text class="n2" style="stroke-width:8.4">2</text></g>
<g transform="translate(351.63,586.0) scale(0.1499,0.2025)"><text class="n2" clip-path="url(#c1)" style="stroke-width:7.9">1</text></g>
<g transform="translate(604.44,571.3) scale(0.1395,0.1885)"><text class="n2" style="stroke-width:8.5">2</text></g>
<g transform="translate(612.20,571.3) scale(0.1395,0.1885)"><text class="n2" style="stroke-width:8.5">0</text></g>
<g transform="translate(694.20,549.0) scale(0.1313,0.1774)"><text class="n2" style="stroke-width:9.0">2</text></g>
<g transform="translate(701.50,549.0) scale(0.1313,0.1774)"><text class="n2" style="stroke-width:9.0">0</text></g>
<g transform="translate(760.33,592.0) scale(0.1416,0.1913)"><text class="n2" style="stroke-width:8.4">2</text></g>
<g transform="translate(768.20,592.0) scale(0.1416,0.1913)"><text class="n2" style="stroke-width:8.4">4</text></g>
<g transform="translate(917.90,460.8) scale(0.1313,0.1774)"><text class="n2" style="stroke-width:9.0">2</text></g>
<g transform="translate(925.20,460.8) scale(0.1313,0.1774)"><text class="n2" clip-path="url(#c1)" style="stroke-width:9.0">1</text></g>
<path class="l" d="M362.2,580.4 L408.5,580.4"/>
</svg>
</body></html>
